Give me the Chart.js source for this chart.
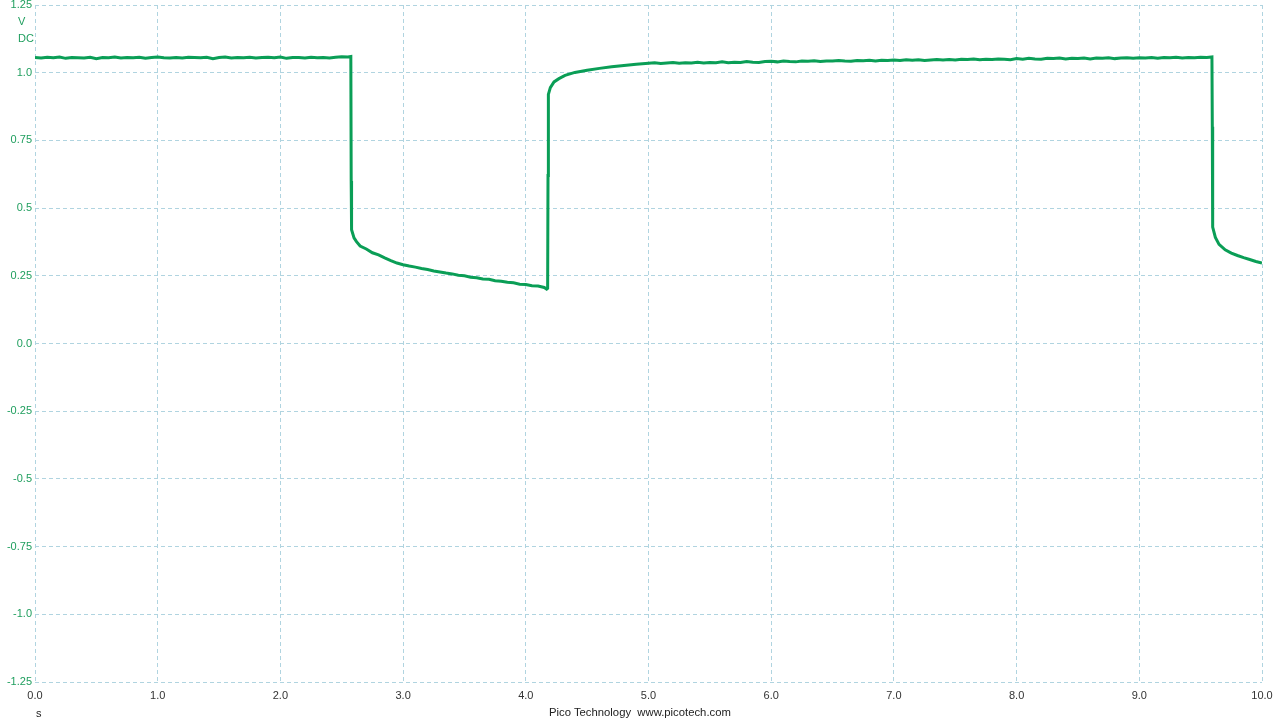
<!DOCTYPE html>
<html>
<head>
<meta charset="utf-8">
<script src="https://cdn.jsdelivr.net/npm/chart.js@4/dist/chart.umd.min.js"></script>
<style>
  html, body { margin: 0; padding: 0; background: #ffffff; }
  #wrap { position: relative; width: 1280px; height: 720px; }
  canvas { position: absolute; left: 0; top: 0; }
  .lbl { position: absolute; font-family: "Liberation Sans", Arial, sans-serif; font-size: 11px; line-height: 13px; white-space: pre; }
  .green { color: #1f9e5e; }
</style>
</head>
<body>
<div id="wrap">
  <canvas id="c" width="1280" height="720"></canvas>
  <div class="lbl green" style="left:18px; top:15px;">V</div>
  <div class="lbl green" style="left:18px; top:32px;">DC</div>
  <div class="lbl" style="left:36px; top:707px; color:#222;">s</div>
  <div class="lbl" style="left:549px; top:706px; color:#222; font-size:11.3px;">Pico Technology  www.picotech.com</div>
</div>
<script>
// ---- Data (seconds, volts DC) ----
const highTimes1 = [0.00,0.05,0.10,0.15,0.20,0.25,0.30,0.35,0.40,0.45,0.50,0.55,0.60,0.65,0.70,0.75,0.80,0.85,0.90,0.95,
  1.00,1.05,1.10,1.15,1.20,1.25,1.30,1.35,1.40,1.45,1.50,1.55,1.60,1.65,1.70,1.75,1.80,1.85,1.90,1.95,
  2.00,2.05,2.10,2.15,2.20,2.25,2.30,2.35,2.40,2.45,2.50,2.55,2.574];
const highVolts1 = [1.056,1.054,1.057,1.055,1.058,1.053,1.056,1.055,1.054,1.057,1.052,1.056,1.055,1.058,1.054,1.056,1.055,1.057,1.053,1.056,
  1.058,1.055,1.054,1.056,1.054,1.057,1.056,1.055,1.057,1.052,1.056,1.058,1.054,1.056,1.055,1.057,1.054,1.056,1.057,1.055,
  1.058,1.053,1.056,1.056,1.054,1.057,1.055,1.056,1.054,1.057,1.059,1.058,1.060];

const lowTimes1 = [2.577,2.580,2.60,2.62,2.65,2.70,2.75,2.80,2.85,2.90,2.95,3.00,3.05,3.10,3.15,3.20,3.25,3.30,3.35,3.40,
  3.45,3.50,3.55,3.60,3.65,3.70,3.75,3.80,3.85,3.90,3.95,4.00,4.05,4.10,4.15,4.17,4.178];
const lowVolts1 = [0.60,0.42,0.390,0.376,0.360,0.349,0.335,0.327,0.316,0.306,0.297,0.291,0.286,0.282,0.277,0.273,0.268,0.264,0.260,0.257,
  0.252,0.250,0.245,0.243,0.238,0.237,0.232,0.230,0.226,0.224,0.219,0.218,0.213,0.212,0.207,0.201,0.204];

const highTimes2 = [4.181,4.184,4.20,4.23,4.27,4.32,4.40,4.50,4.60,4.70,4.80,4.90,
  5.00,5.05,5.10,5.15,5.20,5.25,5.30,5.35,5.40,5.45,5.50,5.55,5.60,5.65,5.70,5.75,5.80,5.85,5.90,5.95,
  6.00,6.05,6.10,6.15,6.20,6.25,6.30,6.35,6.40,6.45,6.50,6.55,6.60,6.65,6.70,6.75,6.80,6.85,6.90,6.95,
  7.00,7.05,7.10,7.15,7.20,7.25,7.30,7.35,7.40,7.45,7.50,7.55,7.60,7.65,7.70,7.75,7.80,7.85,7.90,7.95,
  8.00,8.05,8.10,8.15,8.20,8.25,8.30,8.35,8.40,8.45,8.50,8.55,8.60,8.65,8.70,8.75,8.80,8.85,8.90,8.95,
  9.00,9.05,9.10,9.15,9.20,9.25,9.30,9.35,9.40,9.45,9.50,9.55,9.592];
const highVolts2 = [0.62,0.92,0.945,0.966,0.978,0.990,1.001,1.009,1.016,1.022,1.027,1.031,
  1.035,1.037,1.034,1.036,1.038,1.035,1.037,1.036,1.039,1.036,1.038,1.037,1.040,1.037,1.039,1.038,1.041,1.039,1.038,1.041,
  1.042,1.040,1.043,1.041,1.040,1.043,1.042,1.044,1.041,1.043,1.043,1.045,1.043,1.042,1.045,1.044,1.046,1.043,1.046,1.045,
  1.047,1.045,1.048,1.046,1.048,1.045,1.047,1.049,1.047,1.049,1.047,1.050,1.049,1.051,1.048,1.050,1.049,1.051,1.050,1.048,
  1.052,1.050,1.053,1.051,1.050,1.053,1.052,1.054,1.051,1.053,1.052,1.054,1.051,1.054,1.053,1.055,1.052,1.054,1.055,1.053,
  1.055,1.054,1.056,1.053,1.056,1.055,1.057,1.054,1.056,1.055,1.057,1.056,1.058];

const lowTimes2 = [9.595,9.598,9.62,9.65,9.70,9.75,9.80,9.85,9.90,9.95,10.00];
const lowVolts2 = [0.80,0.43,0.392,0.366,0.346,0.334,0.325,0.317,0.310,0.303,0.297];

const yTickValues = [1.25,1.0,0.75,0.5,0.25,0.0,-0.25,-0.5,-0.75,-1.0,-1.25];
const yTickLabels = ['1.25','1.0','0.75','0.5','0.25','0.0','-0.25','-0.5','-0.75','-1.0','-1.25'];
const xTickValues = [0,1,2,3,4,5,6,7,8,9,10];
const xTickLabels = ['0.0','1.0','2.0','3.0','4.0','5.0','6.0','7.0','8.0','9.0','10.0'];

// ---- Build dataset ----
function pts(ts, vs) { return ts.map((t, i) => ({ x: t, y: vs[i] })); }
const traceData = [].concat(
  pts(highTimes1, highVolts1),
  pts(lowTimes1, lowVolts1),
  pts(highTimes2, highVolts2),
  pts(lowTimes2, lowVolts2)
);

const gridColor = '#b0d4e0';
const tickFont = { family: 'Liberation Sans, Arial, sans-serif', size: 11 };

new Chart(document.getElementById('c'), {
  type: 'line',
  data: {
    datasets: [{
      data: traceData,
      borderColor: '#0a9e56',
      borderWidth: 3,
      pointRadius: 0,
      tension: 0,
      fill: false
    }]
  },
  options: {
    responsive: false,
    animation: false,
    events: [],
    layout: { padding: { top: 5, right: 18, left: 0, bottom: 0 } },
    plugins: { legend: { display: false }, tooltip: { enabled: false } },
    scales: {
      x: {
        type: 'linear',
        min: 0, max: 10,
        afterBuildTicks: (s) => { s.ticks = xTickValues.map(v => ({ value: v })); },
        afterFit: (s) => { s.height = 38; s.paddingLeft = 0; s.paddingRight = 0; },
        grid: { color: gridColor, drawTicks: false, lineWidth: 1 },
        border: { display: false, dash: [4, 3] },
        ticks: {
          padding: 7,
          color: '#333333',
          font: tickFont,
          maxRotation: 0,
          autoSkip: false,
          callback: (v) => { const i = xTickValues.indexOf(v); return i >= 0 ? xTickLabels[i] : ''; }
        }
      },
      y: {
        type: 'linear',
        min: -1.25, max: 1.25,
        afterBuildTicks: (s) => { s.ticks = yTickValues.map(v => ({ value: v })); },
        afterFit: (s) => { s.width = 35; s.paddingTop = 0; s.paddingBottom = 0; },
        grid: { color: gridColor, drawTicks: false, lineWidth: 1 },
        border: { display: false, dash: [4, 3] },
        ticks: {
          padding: 3,
          color: '#1f9e5e',
          font: tickFont,
          autoSkip: false,
          callback: (v) => { const i = yTickValues.indexOf(v); return i >= 0 ? yTickLabels[i] : ''; }
        }
      }
    }
  },
  plugins: [{
    id: 'dashGrid',
    beforeInit: (chart) => {
      chart.options.scales.x.grid.borderDash = [4, 3];
      chart.options.scales.y.grid.borderDash = [4, 3];
    }
  }]
});
</script>
</body>
</html>
